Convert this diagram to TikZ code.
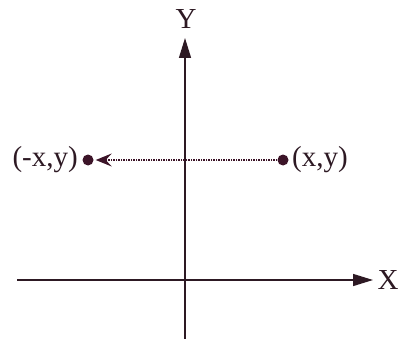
\documentclass[tikz,border=0pt]{standalone}
\usepackage{fontspec}
\setmainfont{Liberation Serif}
\usetikzlibrary{positioning,arrows.meta}
\definecolor{axisink}{RGB}{45,25,35}
\definecolor{dotink}{RGB}{60,20,40}

\begin{document}
\begin{tikzpicture}[x=1pt, y=-1pt, every node/.style={font=\fontsize{29}{31}\selectfont, text=axisink}]
  \tikzset{
    axisline/.style={draw=axisink, line width=1.4pt, -{Triangle[length=20pt,width=12pt]}},
    pointdot/.style={circle, fill=dotink, inner sep=0pt, minimum size=11pt},
    mirror/.style={draw=dotink, line width=1.2pt, dash pattern=on 1.5pt off 1pt, -{Stealth[length=16pt,width=13pt,inset=6pt]}, shorten >=2pt}
  }
  \useasboundingbox (0,0) rectangle (398,339);

  % axes
  \coordinate (Xs) at (17,280);
  \coordinate (Xe) at (373,280);
  \coordinate (Ys) at (185,339);
  \coordinate (Ye) at (185,38);
  \draw[axisline] (Xs) -- (Xe);
  \draw[axisline] (Ys) -- (Ye);
  \node (labX) at (388,280) {X};
  \node (labY) at (186,19) {Y};

  % point and its mirror image
  \node[pointdot] (P) at (283,160) {};
  \node[pointdot] (Q) at (88,160) {};
  \node[right=0pt of P] (labP) {(x,y)};
  \node[left=1pt of Q] (labQ) {(-x,y)};

  \draw[mirror] (P) -- (Q);
\end{tikzpicture}
\end{document}
